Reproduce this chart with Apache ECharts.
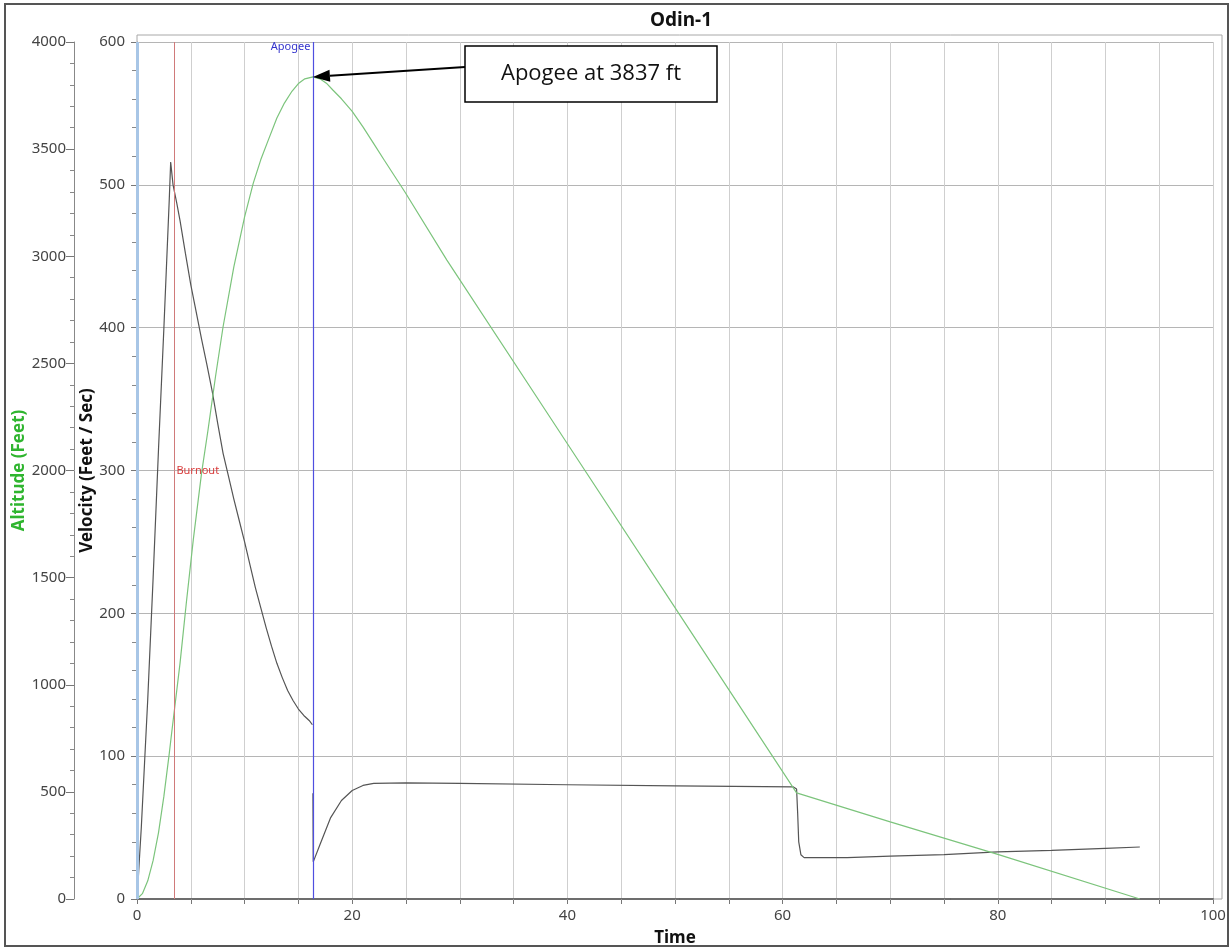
<!DOCTYPE html>
<html>
<head>
<meta charset="utf-8">
<title>Odin-1</title>
<script src="https://cdn.jsdelivr.net/npm/echarts@6/dist/echarts.min.js"></script>
<style>
  html, body { margin: 0; padding: 0; background: #fff; }
  #chart { width: 1231px; height: 951px; }
</style>
</head>
<body>
<div id="chart"></div>
<script>
// velocity (ft/s) against flight time (s); null = break in the trace at apogee
const velTime = [0, 0.05, 0.1, 0.2, 0.4, 0.7, 1.0, 1.5, 2.0, 2.5, 3.0, 3.13, 3.35, 3.7, 4, 4.5, 5, 5.5, 6, 6.5,
  7, 7.5, 8, 8.5, 9, 9.5, 10, 10.5, 11, 11.5, 12, 12.5, 13, 13.5, 14, 14.5, 15, 15.5, 16, 16.3,
  16.33, 16.35, 16.38, 17, 18, 19, 20, 21, 22, 25, 30, 40, 50, 61,
  61.3, 61.4, 61.5, 61.7, 62, 66, 70, 75, 80, 85, 90, 93.2];
const velocity = [0, 4, 12, 25, 50, 95, 140, 225, 315, 400, 490, 516, 500, 487, 475, 452, 430, 411, 392, 374,
  355, 333, 312, 296, 280, 265, 250, 234, 218, 204, 190, 177, 165, 155, 146, 139, 133, 128.5, 125, 122,
  null, 74, 26, 38, 57, 69, 76, 79.5, 81, 81.3, 81, 80, 79.2, 78.5,
  77, 60, 40, 31, 29, 29, 30, 31, 33, 34, 35.5, 36.4];

// altitude (ft) against flight time (s)
const altTime = [0, 0.5, 1, 1.5, 2, 2.5, 3, 3.22, 4, 4.6, 5.23, 6, 6.6, 7.3, 8, 9, 10, 10.8, 11.5, 12.2,
  13, 13.7, 14.4, 15, 15.6, 16.35, 17, 17.6, 18.2, 19, 20, 21, 22, 23, 24.9, 28.8, 40, 50, 61.3,
  70, 75, 80, 93.2];
const altitude = [0, 25, 85, 180, 310, 480, 680, 775, 1101, 1390, 1676, 1988, 2189, 2440, 2671, 2950, 3184, 3340, 3450, 3542,
  3645, 3715, 3770, 3806, 3828, 3837, 3828, 3808, 3776, 3735, 3676, 3604, 3526, 3447, 3300, 2982, 2125, 1360, 495,
  360, 284, 208, 0];

// flight events
const launchTime = 0;
const burnoutTime = 3.43;
const apogeeTime = 16.35;
const apogeeAlt = 3837;

const timeLabels = [0, 20, 40, 60, 80, 100];

const chart = echarts.init(document.getElementById('chart'));

const font = 'Noto Sans';

// one empty series per flight event, carrying its vertical marker line
const eventLine = (t, color, width) => ({
  type: 'line',
  data: [],
  silent: true,
  markLine: {
    silent: true,
    symbol: ['none', 'none'],
    label: { show: false },
    lineStyle: { color: color, width: width, type: 'solid', opacity: 1 },
    emphasis: { disabled: true },
    data: [{ xAxis: t }]
  }
});

const option = {
  animation: false,
  title: {
    text: 'Odin-1',
    left: 676,
    textAlign: 'center',
    top: 6,
    textStyle: { fontFamily: font, fontSize: 19, fontWeight: 'bold', color: '#111' }
  },
  grid: { left: 137, right: 18, top: 42, bottom: 52, containLabel: false, outerBoundsMode: 'none' },
  xAxis: {
    type: 'value',
    min: 0, max: 100, interval: 5,
    name: 'Time',
    nameLocation: 'middle',
    nameGap: 31,
    nameMoveOverlap: false,
    nameTextStyle: { fontFamily: font, fontSize: 17, fontWeight: 'bold', color: '#111' },
    axisLine: { lineStyle: { color: '#333', width: 2 } },
    axisTick: { length: 5, lineStyle: { color: '#777' } },
    axisLabel: {
      fontFamily: font, fontSize: 15, color: '#444', margin: 9,
      formatter: v => timeLabels.includes(v) ? String(v) : ''
    },
    splitLine: { show: true, lineStyle: { color: '#cfcfcf', width: 1 } }
  },
  yAxis: [
    {
      type: 'value',
      position: 'left',
      min: 0, max: 600, interval: 100,
      name: 'Velocity (Feet / Sec)',
      nameLocation: 'middle',
      nameGap: 41,
      nameMoveOverlap: false,
      nameTextStyle: { fontFamily: font, fontSize: 17, fontWeight: 'bold', color: '#111' },
      axisLine: { show: true, lineStyle: { color: '#888' } },
      axisTick: { show: true, length: 6, lineStyle: { color: '#777' } },
      minorTick: { show: true, splitNumber: 5, length: 5, lineStyle: { color: '#888' } },
      axisLabel: { fontFamily: font, fontSize: 15, color: '#444', margin: 12, formatter: v => String(v) },
      splitLine: { show: true, lineStyle: { color: '#b5b5b5', width: 1 } }
    },
    {
      type: 'value',
      position: 'left',
      offset: 63,
      min: 0, max: 4000, interval: 500,
      name: 'Altitude (Feet)',
      nameLocation: 'middle',
      nameGap: 46,
      nameMoveOverlap: false,
      nameTextStyle: { fontFamily: font, fontSize: 17, fontWeight: 'bold', color: '#2fb52f' },
      axisLine: { show: true, lineStyle: { color: '#888' } },
      axisTick: { show: true, length: 8, lineStyle: { color: '#777' } },
      minorTick: { show: true, splitNumber: 5, length: 4, lineStyle: { color: '#888' } },
      axisLabel: { fontFamily: font, fontSize: 15, color: '#444', margin: 8, formatter: v => String(v) },
      splitLine: { show: false }
    }
  ],
  series: [
    eventLine(launchTime, '#a8c6e6', 3),
    eventLine(burnoutTime, '#d07a7a', 1),
    eventLine(apogeeTime, '#4f4fe0', 1.2),
    {
      name: 'Velocity',
      type: 'line',
      yAxisIndex: 0,
      showSymbol: false,
      connectNulls: false,
      data: velTime.map((t, i) => [t, velocity[i] === null ? '-' : velocity[i]]),
      lineStyle: { color: '#555', width: 1.2 },
      markPoint: {
        silent: true,
        symbol: 'circle',
        symbolSize: 1,
        itemStyle: { color: 'rgba(0,0,0,0)' },
        data: [
          {
            coord: [burnoutTime, 300],
            label: { show: true, position: 'right', distance: 2, formatter: 'Burnout',
              fontFamily: font, fontSize: 11, color: '#d83c3c' }
          },
          {
            coord: [apogeeTime, 600],
            label: { show: true, position: 'left', distance: 2, offset: [0, 5], formatter: 'Apogee',
              fontFamily: font, fontSize: 11, color: '#3434cc' }
          }
        ]
      }
    },
    {
      name: 'Altitude',
      type: 'line',
      yAxisIndex: 1,
      showSymbol: false,
      data: altTime.map((t, i) => [t, altitude[i]]),
      lineStyle: { color: '#7cc47c', width: 1.2 }
    }
  ]
};

chart.setOption(option);

// callout box with arrow to the apogee point
const tip = chart.convertToPixel({ seriesIndex: 4 }, [apogeeTime, apogeeAlt]);
const box = { x: 465, y: 46, w: 252, h: 56 };
const tail = [box.x, box.y + 21];
const dx = tail[0] - tip[0], dy = tail[1] - tip[1];
const len = Math.sqrt(dx * dx + dy * dy);
const ux = dx / len, uy = dy / len;
const headLen = 17, headW = 6;
const base = [tip[0] + ux * headLen, tip[1] + uy * headLen];

chart.setOption({
  graphic: [
    {
      type: 'rect', silent: true, z: 100,
      shape: { x: 5, y: 4, width: 1223, height: 942 },
      style: { fill: 'none', stroke: '#555', lineWidth: 2 }
    },
    {
      type: 'rect', silent: true, z: 1,
      shape: { x: 137, y: 35, width: 1085, height: 864 },
      style: { fill: 'none', stroke: '#a8a8a8', lineWidth: 1 }
    },
    {
      type: 'line', silent: true, z: 100,
      shape: { x1: tail[0], y1: tail[1], x2: base[0], y2: base[1] },
      style: { stroke: '#000', lineWidth: 2 }
    },
    {
      type: 'polygon', silent: true, z: 100,
      shape: {
        points: [
          tip,
          [base[0] - uy * headW, base[1] + ux * headW],
          [base[0] + uy * headW, base[1] - ux * headW]
        ]
      },
      style: { fill: '#000' }
    },
    {
      type: 'rect', silent: true, z: 100,
      shape: { x: box.x, y: box.y, width: box.w, height: box.h },
      style: { fill: '#fff', stroke: '#000', lineWidth: 1.5 }
    },
    {
      type: 'text', silent: true, z: 101,
      x: box.x + box.w / 2, y: box.y + box.h / 2,
      style: {
        text: 'Apogee at 3837 ft',
        fontFamily: 'Open Sans', fontSize: 22, fill: '#111',
        align: 'center', verticalAlign: 'middle'
      }
    }
  ]
});
</script>
</body>
</html>
